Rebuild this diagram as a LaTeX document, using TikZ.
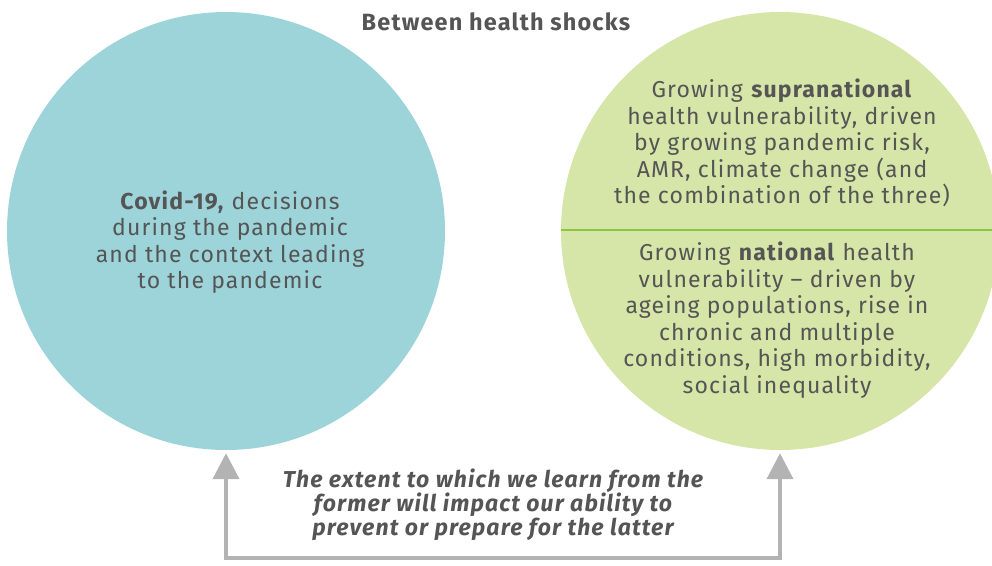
\documentclass[tikz,border=0pt]{standalone}
\usepackage{fontspec}
\setmainfont{Fira Sans}[LetterSpace=5]
\usetikzlibrary{arrows.meta,positioning}
\definecolor{txtgrey}{HTML}{555555}
\definecolor{tealfill}{HTML}{9DD4D9}
\definecolor{limefill}{HTML}{D6E6A8}
\definecolor{limeline}{HTML}{8CC63F}
\definecolor{arrgrey}{HTML}{B3B3B3}

\begin{document}
\begin{tikzpicture}[x=1pt,y=-1pt,
  shock/.style={circle,minimum size=438pt,inner sep=0pt},
  body/.style={text=txtgrey,align=center,font=\fontsize{23}{26.5}\selectfont},
  link/.style={draw=arrgrey,line width=4pt,{Triangle[width=26pt,length=26pt]}-{Triangle[width=26pt,length=26pt]},shorten <=3pt,shorten >=3pt}]
  \useasboundingbox (0,0) rectangle (992,565);
  \clip (0,0) rectangle (992,565);
  % the two circles
  \node[shock,fill=tealfill] (past) at (226,231) {};
  \node[shock,fill=limefill] (future) at (780,231) {};
  \draw[limeline,line width=2.5pt] (561,230) -- (992,230);
  \node[text=txtgrey,font=\fontsize{23.5}{24}\selectfont\bfseries] (title) at (496,22) {Between health shocks};
  \node[body] (covid) at (230,242) {\textbf{Covid-19,} decisions\\during the pandemic\\and the context leading\\to the pandemic};
  \node[body] (supra) at (782,143) {Growing \textbf{supranational}\\health vulnerability, driven\\by growing pandemic risk,\\AMR, climate change (and\\the combination of the three)};
  \node[body] (nat) at (777,320) {Growing \textbf{national} health\\vulnerability -- driven by\\ageing populations, rise in\\chronic and multiple\\conditions, high morbidity,\\social inequality};
  % feedback loop
  \node[text=txtgrey,align=center,font=\fontsize{23}{24}\selectfont\bfseries\itshape] (lesson) at (493,505) {The extent to which we learn from the\\former will impact our ability to\\prevent or prepare for the latter};
  \draw[link] (past.south) -- ++(0,108) -| (future.south);
\end{tikzpicture}
\end{document}
